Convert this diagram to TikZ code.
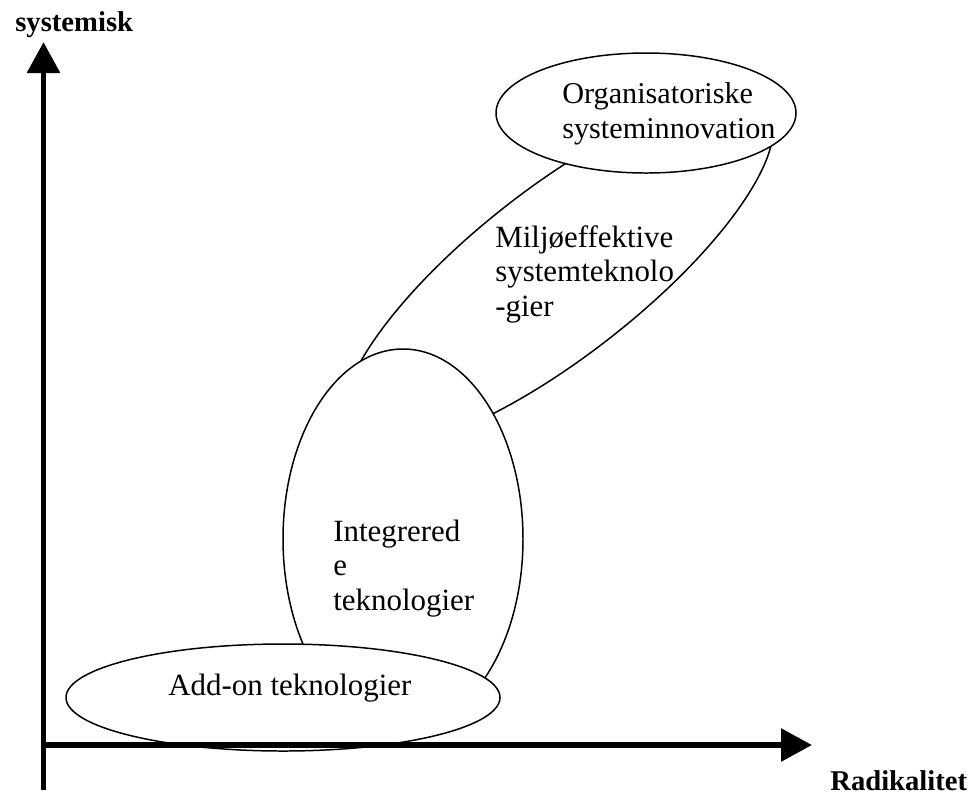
\documentclass[tikz,border=0pt]{standalone}
\usepackage{fontspec}
\setmainfont{Liberation Serif}
\usetikzlibrary{arrows.meta}
\tikzset{
  blob/.style={line width=0.85pt, fill=white},
  axisline/.style={line width=3.4pt, -{Triangle[length=0.62cm,width=0.64cm]}},
  boxtext/.style={inner sep=0pt, anchor=base west, align=left, font=\fontsize{17.6}{19.4}\selectfont},
  axistext/.style={inner sep=0pt, anchor=base west, font=\fontsize{16.3}{18}\selectfont\bfseries}
}
\begin{document}
\begin{tikzpicture}[x=0.02cm, y=-0.02cm]
\useasboundingbox (0,0) rectangle (977,796);
%Tilted set behind the others
\draw [blob, rotate around={38:(558,272)}] (558,272) ellipse (265 and 84);
%Sets
\draw [blob] (403,539) ellipse (120 and 190);
\draw [blob] (283,697.5) ellipse (217 and 53.5);
\draw [blob] (646,113) ellipse (150 and 60);
%Axes
\coordinate (origin) at (43.5,745);
\coordinate (ybot) at (43.5,790);
\coordinate (ytop) at (43.5,42);
\coordinate (xend) at (812,745);
\draw [axisline] (ybot) -- (ytop);
\draw [axisline] (origin) -- (xend);
%Nodes and names (anchored on the last line)
\node [boxtext, font=\fontsize{17.2}{19.4}\selectfont] (org) at (562,138) {Organisatoriske\\systeminnovation};
\node [boxtext] (miljo) at (495,316) {Miljøeffektive\\systemteknolo\\-gier};
\node [boxtext] (integ) at (333,610) {Integrered\\e\\teknologier};
\node [boxtext] (addon) at (168,695) {Add-on teknologier};
\node [axistext] (ylab) at (15,31) {systemisk};
\node [axistext] (xlab) at (830,790) {Radikalitet};
\end{tikzpicture}
\end{document}
